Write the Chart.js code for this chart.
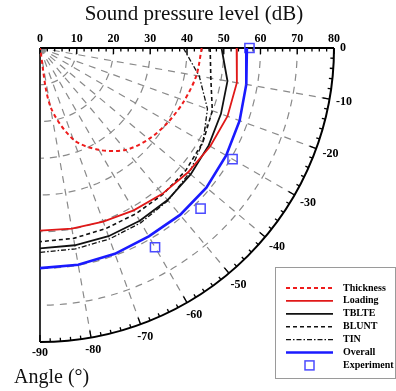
<!DOCTYPE html>
<html lang="en">
<head>
<meta charset="UTF-8">
<title>Sound pressure level directivity</title>
<style>
  body { margin: 0; background: #fff; }
  canvas { display: block; }
</style>
</head>
<body>
<canvas id="spl" width="396" height="391"></canvas>
<script src="https://cdn.jsdelivr.net/npm/chart.js"></script>
<script>
// directivity angle, degrees below the rotor plane
const angles = [0, 10, 20, 30, 40, 50, 60, 70, 80, 90];
// noise components, dB
const thickness = [44, 43.2, 41.8, 40.3, 38.6, 36.2, 32, 26.5, 16, 0];
const loading = [53.5, 54.4, 54.3, 53.5, 52.6, 51.8, 51, 50.3, 49.9, 49.7];
const tblte = [49.4, 51.8, 52.4, 53, 53.5, 54, 54.3, 54.5, 54.5, 54.5];
const blunt = [46.3, 47.2, 49.9, 51.2, 51.8, 52, 52.1, 52.3, 52.6, 52.7];
const tin = [39, 44, 48.5, 51.2, 53, 54.2, 54.9, 55.3, 55.5, 55.6];
const overall = [56.3, 57, 57.8, 58.5, 59.1, 59.3, 59.2, 59.6, 59.9, 59.9];
// measurements
const expAngles = [0, 30, 45, 60];
const experiment = [57, 60.5, 61.8, 62.6];
// angle labels along the outer arc
const angleTicks = [0, -10, -20, -30, -40, -50, -60, -70, -80, -90];

const RMAX = 80;
const SERIF = "'Liberation Serif', 'Times New Roman', serif";

function toXY(angs, vals) {
  return angs.map((a, i) => {
    const t = a * Math.PI / 180;
    return { x: vals[i] * Math.cos(t), y: -vals[i] * Math.sin(t) };
  });
}

function lineSet(label, vals, color, width, dash, tension) {
  return {
    label: label,
    data: toXY(angles, vals),
    showLine: true,
    borderColor: color,
    borderWidth: width,
    borderDash: dash || [],
    pointRadius: 0,
    tension: tension || 0,
    fill: false
  };
}

const datasets = [
  lineSet('Thickness', thickness, '#ee1c1c', 2, [4, 3], 0.3),
  lineSet('Loading', loading, '#e01818', 1.8),
  lineSet('TBLTE', tblte, '#111', 1.8),
  lineSet('BLUNT', blunt, '#111', 1.6, [4, 3]),
  lineSet('TIN', tin, '#111', 1.3, [5, 2, 1.5, 2]),
  lineSet('Overall', overall, '#1a1aff', 2.6),
  {
    label: 'Experiment',
    data: toXY(expAngles, experiment),
    showLine: false,
    pointStyle: 'rect',
    pointRadius: 6.5,
    pointBorderWidth: 1.5,
    pointBorderColor: '#4b4bff',
    pointBackgroundColor: 'rgba(0,0,0,0)',
    clip: false
  }
];

// polar grid, frame, arc ticks and angle labels
const polarFrame = {
  id: 'polarFrame',
  beforeDatasetsDraw(chart) {
    const ctx = chart.ctx;
    const xs = chart.scales.x, ys = chart.scales.y;
    const x0 = xs.getPixelForValue(0), y0 = ys.getPixelForValue(0);
    const rp = v => xs.getPixelForValue(v) - x0;
    const R = rp(RMAX);
    ctx.save();

    // dashed grid
    ctx.strokeStyle = '#8a8a8a';
    ctx.lineWidth = 1.2;
    ctx.setLineDash([7, 6]);
    for (let r = 10; r < RMAX; r += 10) {
      ctx.beginPath();
      ctx.arc(x0, y0, rp(r), 0, Math.PI / 2);
      ctx.stroke();
    }
    for (let a = 10; a < 90; a += 10) {
      const t = a * Math.PI / 180;
      ctx.beginPath();
      ctx.moveTo(x0, y0);
      ctx.lineTo(x0 + R * Math.cos(t), y0 + R * Math.sin(t));
      ctx.stroke();
    }
    ctx.setLineDash([]);

    // frame
    ctx.strokeStyle = '#000';
    ctx.lineWidth = 2;
    ctx.beginPath();
    ctx.arc(x0, y0, R, 0, Math.PI / 2);
    ctx.stroke();
    ctx.beginPath();
    ctx.moveTo(x0, y0);
    ctx.lineTo(x0 + R, y0);
    ctx.stroke();
    ctx.strokeStyle = '#333';
    ctx.beginPath();
    ctx.moveTo(x0, y0);
    ctx.lineTo(x0, y0 + R);
    ctx.stroke();

    // ticks on the top axis and on the arc
    ctx.strokeStyle = '#000';
    ctx.lineWidth = 1.3;
    for (let v = 0; v <= RMAX; v += 2) {
      const len = v % 10 === 0 ? 6 : 3.5;
      const px = xs.getPixelForValue(v);
      ctx.beginPath();
      ctx.moveTo(px, y0);
      ctx.lineTo(px, y0 + len);
      ctx.stroke();
    }
    for (let a = 0; a <= 90; a += 2) {
      const len = a % 10 === 0 ? 7 : 3.5;
      const t = a * Math.PI / 180;
      const c = Math.cos(t), s = Math.sin(t);
      ctx.beginPath();
      ctx.moveTo(x0 + R * c, y0 + R * s);
      ctx.lineTo(x0 + (R - len) * c, y0 + (R - len) * s);
      ctx.stroke();
    }

    // angle labels
    ctx.fillStyle = '#000';
    ctx.font = 'bold 12px ' + SERIF;
    ctx.textAlign = 'center';
    ctx.textBaseline = 'middle';
    angleTicks.forEach(a => {
      const t = -a * Math.PI / 180;
      const c = Math.cos(t), s = Math.sin(t);
      const txt = String(a);
      const w = ctx.measureText(txt).width;
      const off = 6 + (w / 2) * c + 5 * s;
      ctx.fillText(txt, x0 + (R + off) * c, y0 + (R + off) * s);
    });

    // axis captions
    ctx.font = '21px ' + SERIF;
    ctx.fillStyle = '#111';
    ctx.fillText('Sound pressure level (dB)', 194, 14);
    ctx.font = '20px ' + SERIF;
    ctx.textAlign = 'left';
    ctx.fillText('Angle (\u00b0)', 14, 378);
    ctx.restore();
  },
  afterDraw(chart) {
    const ctx = chart.ctx;
    const bx = 275.5, by = 267.5, bw = 120, bh = 111;
    ctx.save();
    ctx.fillStyle = '#fff';
    ctx.fillRect(bx, by, bw, bh);
    ctx.strokeStyle = '#9a9a9a';
    ctx.lineWidth = 1;
    ctx.strokeRect(bx, by, bw, bh);
    ctx.font = 'bold 10px ' + SERIF;
    ctx.textBaseline = 'middle';
    ctx.textAlign = 'left';
    chart.data.datasets.forEach((ds, i) => {
      const y = 288 + i * 12.9;
      if (ds.showLine) {
        ctx.strokeStyle = ds.borderColor;
        ctx.lineWidth = ds.borderWidth;
        ctx.setLineDash(ds.borderDash);
        ctx.beginPath();
        ctx.moveTo(286, y);
        ctx.lineTo(333, y);
        ctx.stroke();
        ctx.setLineDash([]);
      } else {
        ctx.strokeStyle = ds.pointBorderColor;
        ctx.lineWidth = ds.pointBorderWidth;
        ctx.strokeRect(305, y - 4.5, 9, 9);
      }
      ctx.fillStyle = '#000';
      ctx.fillText(ds.label, 343, y);
    });
    ctx.restore();
  }
};

new Chart(document.getElementById('spl'), {
  type: 'scatter',
  data: { datasets: datasets },
  plugins: [polarFrame],
  options: {
    responsive: false,
    animation: false,
    devicePixelRatio: 1,
    layout: { padding: { left: 40, right: 62, top: 0, bottom: 49 } },
    plugins: {
      legend: { display: false },
      tooltip: { enabled: false }
    },
    scales: {
      x: {
        type: 'linear',
        position: 'top',
        min: 0,
        max: RMAX,
        afterFit(scale) { scale.height = 48; },
        grid: { display: false, drawTicks: false },
        border: { display: false },
        ticks: {
          stepSize: 10,
          padding: 2,
          color: '#000',
          font: { family: SERIF, weight: 'bold', size: 12 }
        }
      },
      y: {
        type: 'linear',
        display: false,
        min: -RMAX,
        max: 0
      }
    }
  }
});
</script>
</body>
</html>
